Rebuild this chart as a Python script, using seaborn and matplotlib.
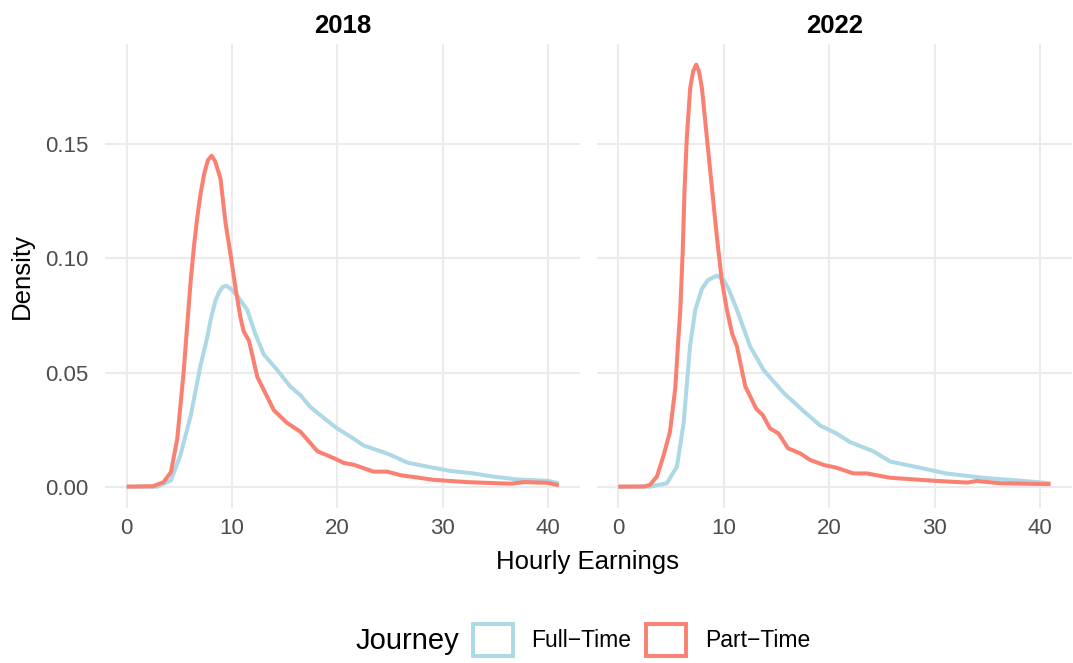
import numpy as np
import pandas as pd
import seaborn as sns
import matplotlib
matplotlib.use("Agg")
import matplotlib.pyplot as plt
from matplotlib.patches import Patch

# density curves (x = hourly earnings, y = density)
ft18_x = [0, 2.9, 4.2, 5.1, 6.07, 7.0, 7.65, 7.96, 8.43, 8.75, 9.1, 9.48, 10.0, 10.5, 11.44, 12.2,
          13.0, 14.3, 15.5, 16.5, 17.4, 19.0, 19.97, 21.2, 22.5, 24.1, 25.0, 26.6, 28.5, 30.7, 32.9,
          34.8, 37.0, 39.9, 41.0]
ft18_y = [0, 0, 0.0028, 0.0138, 0.031, 0.053, 0.0655, 0.073, 0.0816, 0.085, 0.0875, 0.088, 0.0862,
          0.0835, 0.0775, 0.067, 0.058, 0.051, 0.044, 0.040, 0.035, 0.029, 0.0255, 0.022, 0.018,
          0.0155, 0.014, 0.0106, 0.0088, 0.0069, 0.0058, 0.0044, 0.0032, 0.0026, 0.0015]

pt18_x = [0, 2.5, 3.5, 4.2, 4.8, 5.4, 5.7, 6.07, 6.4, 6.7, 7.0, 7.35, 7.7, 8.06, 8.4, 8.9, 9.38, 9.86,
          10.33, 10.8, 11.1, 11.6, 12.4, 13.96, 15.2, 16.5, 18.1, 19.65, 20.6, 21.55, 23.4, 24.7,
          26.0, 27.6, 29.1, 32.3, 36.4, 37.7, 39.9, 41.0]
pt18_y = [0, 0.0002, 0.002, 0.0064, 0.021, 0.050, 0.068, 0.090, 0.106, 0.118, 0.128, 0.137, 0.143,
          0.145, 0.1425, 0.135, 0.1155, 0.1015, 0.0869, 0.074, 0.068, 0.064, 0.048, 0.0335, 0.028,
          0.024, 0.0155, 0.0125, 0.0104, 0.0096, 0.0066, 0.0066, 0.005, 0.004, 0.003, 0.002, 0.0013,
          0.002, 0.0017, 0.0006]

ft22_x = [0, 3.0, 4.6, 5.56, 6.2, 6.8, 7.3, 7.93, 8.5, 9.36, 10.0, 10.45, 11.25, 12.5, 13.8, 15.7,
          17.6, 19.15, 20.7, 22.0, 24.2, 25.8, 28.9, 31.1, 34.6, 38.4, 41.0]
ft22_y = [0, 0, 0.0015, 0.0088, 0.028, 0.0615, 0.0775, 0.0867, 0.0905, 0.0925, 0.0905, 0.0867,
          0.0775, 0.0615, 0.051, 0.041, 0.033, 0.0268, 0.0233, 0.0195, 0.0155, 0.011, 0.008, 0.0058,
          0.0039, 0.0025, 0.0015]

pt22_x = [0, 2.5, 3.0, 3.67, 4.3, 4.9, 5.4, 5.7, 5.88, 6.1, 6.29, 6.5, 6.82, 7.1, 7.39, 7.65, 7.93,
          8.4, 8.88, 9.36, 9.83, 10.3, 10.8, 11.25, 12.04, 13.1, 13.7, 14.4, 15.2, 16.1, 17.25, 18.2,
          19.5, 20.7, 22.3, 23.6, 25.8, 28.0, 29.9, 33.1, 34.0, 36.2, 41.0]
pt22_y = [0, 0.0001, 0.0008, 0.0045, 0.0138, 0.024, 0.043, 0.065, 0.0775, 0.102, 0.131, 0.153,
          0.1747, 0.182, 0.1849, 0.182, 0.1747, 0.153, 0.131, 0.109, 0.090, 0.0775, 0.067, 0.0615,
          0.044, 0.034, 0.0314, 0.0255, 0.0233, 0.0168, 0.0146, 0.0117, 0.0095, 0.0083, 0.0058,
          0.0058, 0.0039, 0.0032, 0.0026, 0.0018, 0.0025, 0.0015, 0.0011]

years = ["2018", "2022"]
journeys = ["Full\u2212Time", "Part\u2212Time"]
colors = {"Full\u2212Time": "#ADD8E6", "Part\u2212Time": "#FA8072"}

parts = []
for yr, jr, xs, ys in [("2018", journeys[0], ft18_x, ft18_y), ("2018", journeys[1], pt18_x, pt18_y),
                       ("2022", journeys[0], ft22_x, ft22_y), ("2022", journeys[1], pt22_x, pt22_y)]:
    parts.append(pd.DataFrame({"Year": yr, "Journey": jr, "x": xs, "density": ys}))
df = pd.concat(parts).reset_index(drop=True)

sns.set_theme(style="whitegrid")
plt.rcParams['font.family'] = ['Liberation Sans', 'DejaVu Sans']
plt.rcParams['text.color'] = 'black'

fig = plt.figure(figsize=(10.73, 6.63), dpi=100)
ax1 = fig.add_axes([0.0979, 0.2341, 0.4431, 0.6997])
ax2 = fig.add_axes([0.5561, 0.2341, 0.4431, 0.6997])

for ax, yr in zip([ax1, ax2], years):
    sub = df[df.Year == yr]
    sns.lineplot(data=sub, x="x", y="density", hue="Journey", hue_order=journeys,
                 palette=colors, linewidth=2.9, ax=ax, legend=False, sort=False, estimator=None)
    for ln in ax.lines:
        ln.set_solid_joinstyle("round")
        ln.set_solid_capstyle("butt")
    ax.set_xlim(-2.05, 43.05)
    ax.set_ylim(-0.00925, 0.194)
    ax.set_xticks([0, 10, 20, 30, 40])
    ax.set_yticks([0, 0.05, 0.10, 0.15])
    ax.set_facecolor("white")
    for s in ax.spines.values():
        s.set_visible(False)
    ax.grid(True, color="#EBEBEB", linewidth=1.5)
    ax.tick_params(axis="both", length=0, labelsize=16, labelcolor="#4D4D4D")
    ax.tick_params(axis="x", pad=7)
    ax.tick_params(axis="y", pad=12)
    ax.set_title(yr, fontsize=18.5, fontweight="bold", pad=8, color="black")
    ax.set_xlabel("")
    ax.set_ylabel("")

ax1.set_yticklabels(["0.00", "0.05", "0.10", "0.15"])
ax2.set_yticklabels([])
fig.text(22 / 1073, 1 - 276 / 663, "Density", rotation=90, ha="center", va="center", fontsize=18.5)
fig.text(588 / 1073, 1 - 562 / 663, "Hourly Earnings", ha="center", va="center", fontsize=18.5)

# legend at the bottom, title on the left like ggplot
fig.text(356 / 1073, 1 - 641 / 663, "Journey", ha="left", va="center", fontsize=21)
handles = [Patch(facecolor="white", edgecolor=colors[j], linewidth=2.8, label=j) for j in journeys]
fig.legend(handles=handles, loc="center left", bbox_to_anchor=(473 / 1073, 1 - 640 / 663),
           ncol=2, frameon=False, fontsize=16.5, handlelength=1.75, handleheight=1.75,
           handletextpad=0.8, columnspacing=0.65, borderpad=0, borderaxespad=0)

fig.savefig("out.png", dpi=100)
